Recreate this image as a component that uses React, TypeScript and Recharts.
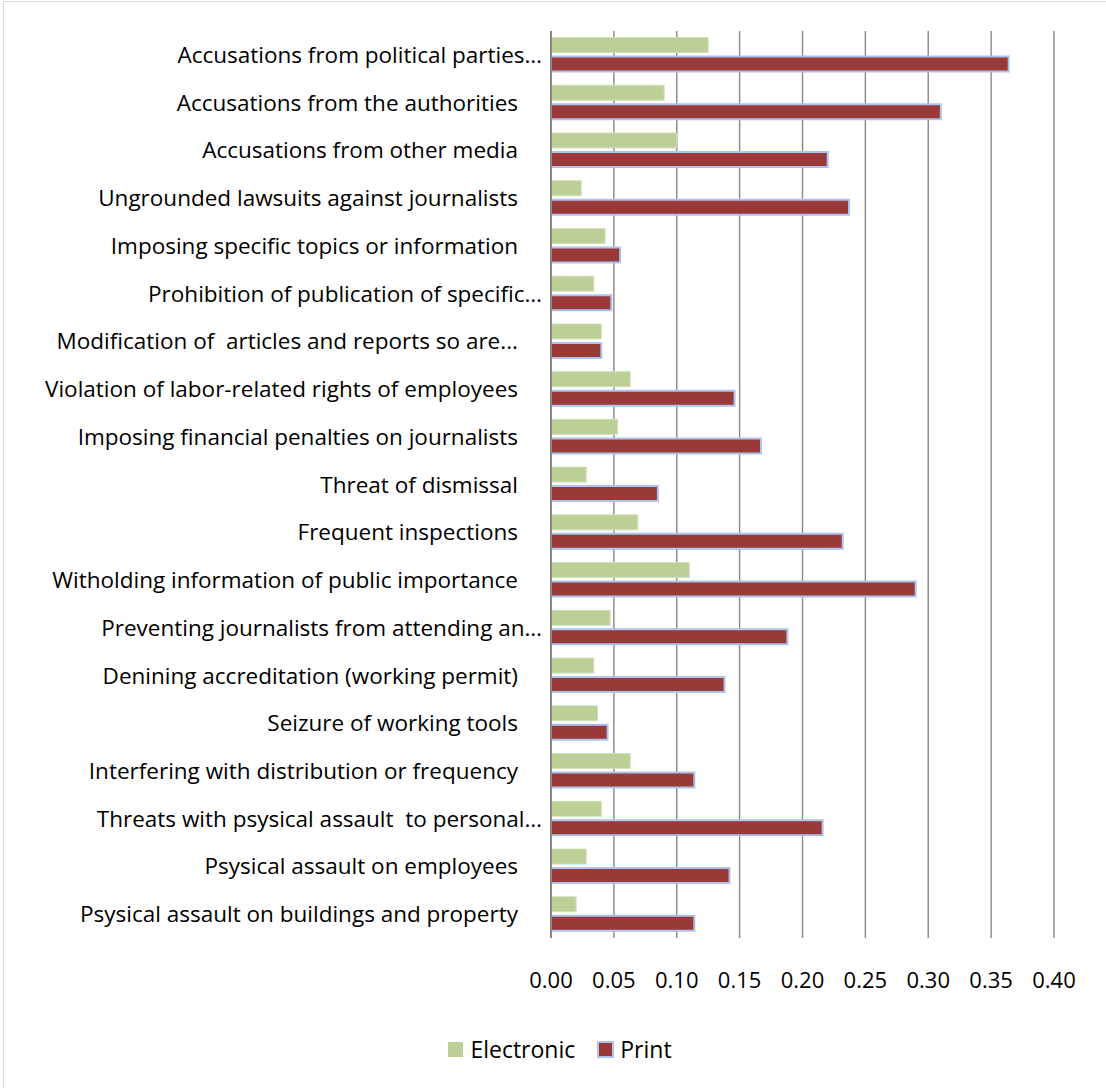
import React from "react";
import { BarChart, Bar, XAxis, YAxis, CartesianGrid, Legend } from "recharts";

const categories = [
  "Accusations from political parties…",
  "Accusations from the authorities",
  "Accusations from other media",
  "Ungrounded lawsuits against journalists",
  "Imposing specific topics or information",
  "Prohibition of publication of specific…",
  "Modification of  articles and reports so are...",
  "Violation of labor-related rights of employees",
  "Imposing financial penalties on journalists",
  "Threat of dismissal",
  "Frequent inspections",
  "Witholding information of public importance",
  "Preventing journalists from attending an…",
  "Denining accreditation (working permit)",
  "Seizure of working tools",
  "Interfering with distribution or frequency",
  "Threats with psysical assault  to personal…",
  "Psysical assault on employees",
  "Psysical assault on buildings and property",
];

const electronic = [0.125, 0.09, 0.1, 0.024, 0.043, 0.034, 0.04, 0.063, 0.053, 0.028, 0.069, 0.11, 0.047, 0.034, 0.037, 0.063, 0.04, 0.028, 0.02];
const print = [0.364, 0.31, 0.22, 0.237, 0.055, 0.048, 0.04, 0.146, 0.167, 0.085, 0.232, 0.29, 0.188, 0.138, 0.045, 0.114, 0.216, 0.142, 0.114];

const xTicks = [0, 0.05, 0.1, 0.15, 0.2, 0.25, 0.3, 0.35, 0.4];

const data = categories.map((c, i) => ({ name: c, Electronic: electronic[i], Print: print[i] }));

const FONT = '"Open Sans", sans-serif';

const YTick = (props: any) => {
  const { x, y, payload } = props;
  const v: string = payload.value;
  const off = v.endsWith("…") ? 9 : 33;
  return (
    <text
      x={x - off}
      y={y}
      dy="0.36em"
      textAnchor="end"
      fontFamily={FONT}
      fontSize={22.5}
      fill="#000"
      style={{ whiteSpace: "pre" }}
    >
      {v}
    </text>
  );
};

const LegendContent = () => (
  <div
    style={{
      display: "flex",
      justifyContent: "center",
      alignItems: "center",
      fontFamily: FONT,
      fontSize: 23,
      color: "#000",
      marginLeft: 14,
    }}
  >
    <span style={{ display: "inline-block", width: 15, height: 15, background: "#bbcf97", marginRight: 7 }} />
    <span style={{ marginRight: 22 }}>Electronic</span>
    <span
      style={{
        display: "inline-block",
        width: 13,
        height: 13,
        background: "#9a3a38",
        border: "2px solid #aec4ee",
        marginRight: 6,
        boxSizing: "content-box",
      }}
    />
    <span>Print</span>
  </div>
);

export default function App() {
  return (
    <div style={{ position: "absolute", left: 0, top: 0, width: 1106, height: 1088, background: "#fff", overflow: "hidden" }}>
      <div
        style={{
          position: "absolute",
          left: 3,
          top: 1,
          width: 1120,
          height: 1100,
          border: "1px solid #d9d9d9",
        }}
      />
      <BarChart
        width={1106}
        height={1088}
        data={data}
        layout="vertical"
        margin={{ top: 31, right: 52, bottom: 90, left: 0 }}
        barCategoryGap="13.6%"
        barGap={4}
        style={{ position: "absolute", left: 0, top: 0 }}
      >
        <CartesianGrid horizontal={false} stroke="#8e8e8e" strokeWidth={1.5} />
        <XAxis
          type="number"
          domain={[0, 0.4]}
          ticks={xTicks}
          tickFormatter={(v: number) => v.toFixed(2)}
          axisLine={false}
          tickLine={false}
          tickSize={0}
          tickMargin={34}
          height={60}
          interval={0}
          tick={{ fontFamily: FONT, fontSize: 22, fill: "#000" }}
        />
        <YAxis
          type="category"
          dataKey="name"
          width={551}
          axisLine={{ stroke: "#868686", strokeWidth: 2 }}
          tickLine={false}
          tickSize={0}
          tickMargin={0}
          interval={0}
          tick={<YTick />}
        />
        <Legend
          verticalAlign="middle"
          align="center"
          content={<LegendContent />}
          wrapperStyle={{ top: 1033, left: 0, width: 1106 }}
        />
        <Bar dataKey="Electronic" fill="#bbcf97" stroke="#d2e0b8" strokeWidth={1} isAnimationActive={false} />
        <Bar dataKey="Print" fill="#9a3a38" stroke="#aec4ee" strokeWidth={2} isAnimationActive={false} />
      </BarChart>
    </div>
  );
}
